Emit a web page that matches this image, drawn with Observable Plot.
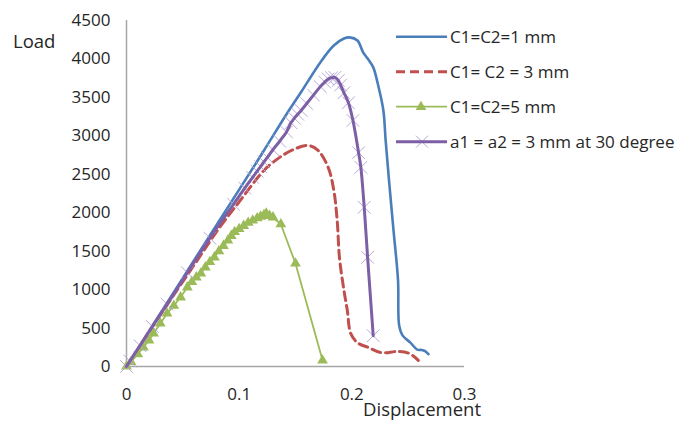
<!DOCTYPE html>
<html><head><meta charset="utf-8">
<script src="https://cdn.jsdelivr.net/npm/d3@7"></script>
<script src="https://cdn.jsdelivr.net/npm/@observablehq/plot@0.6"></script>
<style>
body{margin:0;background:#fff;}
#wrap{position:relative;width:675px;height:423px;font-family:"Open Sans",sans-serif;}
#wrap > svg{position:absolute;left:0;top:0;}
</style></head><body><div id="wrap"></div>
<script>
// ---- data ----
const seriesNames = ["C1=C2=1 mm", "C1= C2 = 3 mm", "C1=C2=5 mm", "a1 = a2 = 3 mm at 30 degree"];
const xTicks = [0, 0.1, 0.2, 0.3];
const yTicks = [0, 500, 1000, 1500, 2000, 2500, 3000, 3500, 4000, 4500];

const blueDisp = [0, 0.03, 0.066, 0.1, 0.122, 0.142, 0.155, 0.172, 0.184, 0.193, 0.198, 0.205, 0.210, 0.214, 0.219, 0.223, 0.228, 0.230, 0.233, 0.237, 0.241, 0.242, 0.245, 0.252, 0.258, 0.262, 0.265, 0.268];
const blueLoad = [0, 690, 1520, 2300, 2810, 3280, 3570, 3955, 4175, 4265, 4280, 4240, 4085, 4005, 3890, 3680, 3330, 2940, 2420, 1770, 1120, 535, 405, 310, 220, 215, 200, 160];

const redDisp = [0, 0.03, 0.06, 0.0827, 0.101, 0.122, 0.136, 0.148, 0.161, 0.170, 0.179, 0.184, 0.187, 0.189, 0.193, 0.196, 0.199, 0.205, 0.215, 0.226, 0.241, 0.251, 0.259];
const redLoad = [0, 670, 1320, 1810, 2160, 2550, 2720, 2820, 2875, 2810, 2590, 2290, 1900, 1420, 990, 730, 430, 310, 245, 180, 195, 170, 80];

const greenDisp = [0, 0.004, 0.010, 0.015, 0.020, 0.024, 0.030, 0.036, 0.042, 0.048, 0.054, 0.058, 0.062, 0.066, 0.070, 0.074, 0.078, 0.082, 0.086, 0.090, 0.093, 0.096, 0.100, 0.104, 0.108, 0.112, 0.116, 0.119, 0.122, 0.124, 0.127, 0.130, 0.137, 0.150, 0.174];
const greenLoad = [0, 60, 160, 250, 340, 430, 560, 690, 790, 900, 1030, 1100, 1160, 1210, 1290, 1360, 1420, 1500, 1570, 1640, 1700, 1750, 1790, 1830, 1870, 1900, 1930, 1950, 1970, 1990, 1960, 1940, 1850, 1340, 80];

const purpleDisp = [0, 0.003, 0.012, 0.023, 0.036, 0.054, 0.074, 0.095, 0.105, 0.112, 0.116, 0.119, 0.122, 0.125, 0.130, 0.136, 0.142, 0.146, 0.149, 0.152, 0.155, 0.160, 0.166, 0.172, 0.176, 0.179, 0.182, 0.185, 0.188, 0.190, 0.193, 0.197, 0.201, 0.206, 0.208, 0.211, 0.214, 0.219];
const purpleLoad = [0, 70, 270, 520, 810, 1220, 1670, 2110, 2320, 2460, 2540, 2600, 2660, 2720, 2820, 2930, 3050, 3170, 3230, 3280, 3330, 3420, 3530, 3640, 3700, 3740, 3755, 3760, 3720, 3660, 3560, 3430, 3200, 2780, 2590, 2070, 1420, 400];

// ---- tables ----
const toRows = (xs, ys, name) => xs.map((x, i) => ({disp: x, load: ys[i], series: name}));
const blue = toRows(blueDisp, blueLoad, seriesNames[0]);
const red = toRows(redDisp, redLoad, seriesNames[1]);
const green = toRows(greenDisp, greenLoad, seriesNames[2]);
const purple = toRows(purpleDisp, purpleLoad, seriesNames[3]);

const C = {blue: "#4a7ebb", red: "#c0504d", green: "#9bbb59", purple: "#7d5fa5", purpleMark: "#b8a9d8", axis: "#a6a6a6", text: "#262626"};

const chart = Plot.plot({
  width: 675, height: 423,
  marginLeft: 126, marginRight: 211, marginTop: 20, marginBottom: 57,
  style: {fontFamily: "'Open Sans', sans-serif", fontSize: "17px", color: C.text, background: "transparent"},
  x: {domain: [0, 0.3]},
  y: {domain: [0, 4500]},
  marks: [
    Plot.axisX({ticks: xTicks, tickSize: 0, tickPadding: 21, label: null, tickFormat: d => String(d), fill: C.text}),
    Plot.axisY({ticks: yTicks, tickSize: 0, tickPadding: 16, label: null, tickFormat: d => String(d), fill: C.text}),
    Plot.ruleX([0], {stroke: C.axis, strokeWidth: 1.5}),
    Plot.ruleY([0], {stroke: C.axis, strokeWidth: 1.5}),
    Plot.line(blue, {x: "disp", y: "load", stroke: C.blue, strokeWidth: 2.6, curve: "catmull-rom"}),
    Plot.line(red, {x: "disp", y: "load", stroke: C.red, strokeWidth: 3, strokeDasharray: "9,5", curve: "catmull-rom"}),
    Plot.line(green, {x: "disp", y: "load", stroke: C.green, strokeWidth: 1.8}),
    Plot.dot(green, {x: "disp", y: "load", symbol: "triangle", r: 4, fill: C.green, stroke: "none"}),
    Plot.dot(purple, {x: "disp", y: "load", symbol: "times", r: 5.8, stroke: C.purpleMark, strokeWidth: 1}),
    Plot.line(purple, {x: "disp", y: "load", stroke: C.purple, strokeWidth: 3, curve: "catmull-rom"})
  ]
});
const wrap = document.getElementById("wrap");
wrap.appendChild(chart);

// ---- overlay: axis titles and legend ----
const ns = "http://www.w3.org/2000/svg";
const ov = document.createElementNS(ns, "svg");
ov.setAttribute("width", 675); ov.setAttribute("height", 423);
ov.setAttribute("font-family", "'Open Sans', sans-serif");
ov.setAttribute("font-size", "17");
function el(tag, attrs, text) {
  const e = document.createElementNS(ns, tag);
  for (const k in attrs) e.setAttribute(k, attrs[k]);
  if (text != null) e.textContent = text;
  ov.appendChild(e); return e;
}
el("text", {x: 13, y: 48, fill: C.text, "font-size": "18.5"}, "Load");
el("text", {x: 481, y: 416, fill: C.text, "text-anchor": "end", "font-size": "18.5"}, "Displacement");

const legendStyles = [
  {stroke: C.blue, width: 2.6, dash: null, mark: null},
  {stroke: C.red, width: 3, dash: "9,5", mark: null},
  {stroke: C.green, width: 1.8, dash: null, mark: "tri"},
  {stroke: C.purple, width: 3, dash: null, mark: "x"}
];
seriesNames.forEach((name, i) => {
  const cy = 36.7 + i * 35;
  const s = legendStyles[i];
  if (s.mark === "x") {
    el("path", {d: `M${422-6},${cy-6}L${422+6},${cy+6}M${422-6},${cy+6}L${422+6},${cy-6}`, stroke: C.purpleMark, "stroke-width": 1, fill: "none"});
  }
  const ln = el("line", {x1: 396, x2: 447, y1: cy, y2: cy, stroke: s.stroke, "stroke-width": s.width});
  if (s.dash) ln.setAttribute("stroke-dasharray", s.dash);
  if (s.mark === "tri") {
    el("path", {d: `M421,${cy-6}L426.4,${cy+3.3}L415.6,${cy+3.3}Z`, fill: C.green});
  }
  el("text", {x: 450, y: cy + 6.3, fill: C.text}, name);
});
wrap.appendChild(ov);
</script>
</body></html>
